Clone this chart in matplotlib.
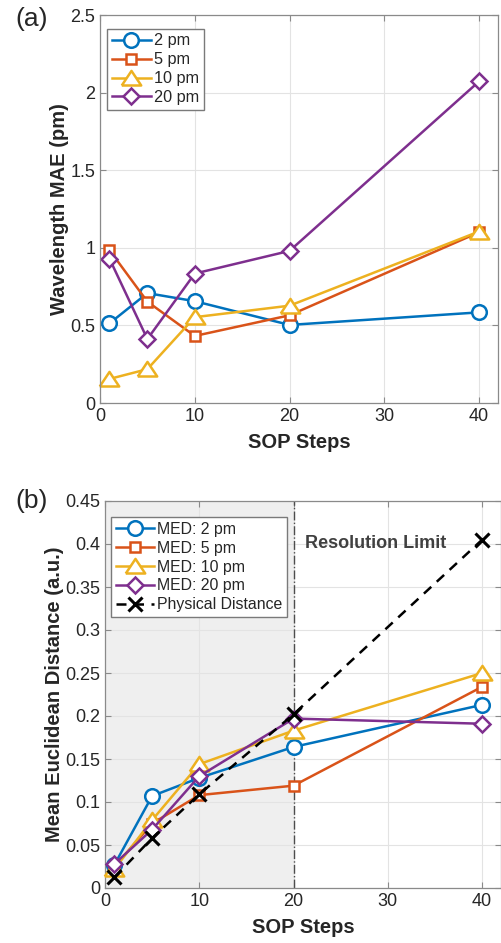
import matplotlib
matplotlib.use("Agg")
import matplotlib.pyplot as plt

plt.rcParams['font.family'] = ['Liberation Sans', 'DejaVu Sans']

sop_steps = [1, 5, 10, 20, 40]

# Panel (a): Wavelength MAE (pm)
mae_2pm = [0.513, 0.708, 0.656, 0.503, 0.584]
mae_5pm = [0.985, 0.653, 0.432, 0.565, 1.100]
mae_10pm = [0.155, 0.218, 0.553, 0.627, 1.105]
mae_20pm = [0.930, 0.412, 0.834, 0.980, 2.072]

# Panel (b): Mean Euclidean Distance (a.u.)
med_2pm = [0.027, 0.107, 0.128, 0.164, 0.213]
med_5pm = [0.025, 0.075, 0.108, 0.119, 0.234]
med_10pm = [0.022, 0.079, 0.144, 0.183, 0.250]
med_20pm = [0.028, 0.068, 0.130, 0.197, 0.191]
physical = [0.0125, 0.058, 0.109, 0.202, 0.405]

labels_a = ['2 pm', '5 pm', '10 pm', '20 pm']
labels_b = ['MED: 2 pm', 'MED: 5 pm', 'MED: 10 pm', 'MED: 20 pm', 'Physical Distance']

colors = ['#0072BD', '#D95319', '#EDB120', '#7E2F8E']
tri = [(-1, -0.72), (1, -0.72), (0, 0.78), (-1, -0.72)]
markers = ['o', 's', tri, 'D']
msizes = [10.5, 7.8, 14, 8.6]

TXT = '#262626'
SPINE = '#8a8a8a'
GRID = '#e3e3e3'

fig = plt.figure(figsize=(5.02, 9.43), dpi=100)

def style_axes(ax, yticks, yticklabels):
    ax.set_xlim(0, 42)
    ax.set_xticks([0, 10, 20, 30, 40])
    ax.set_yticks(yticks)
    ax.set_yticklabels(yticklabels)
    ax.tick_params(direction='in', top=True, right=True, labelsize=13,
                   colors=SPINE, labelcolor=TXT, length=4, width=0.8)
    for s in ax.spines.values():
        s.set_color(SPINE)
        s.set_linewidth(0.9)
    ax.grid(True, color=GRID, linewidth=0.8)
    ax.set_axisbelow(True)
    ax.set_xlabel('SOP Steps', fontsize=14.5, fontweight='bold', color=TXT, labelpad=6)

# ---------- (a) ----------
axa = fig.add_axes([100/502, 1 - 403/943, 398/502, 388/943])
series_a = [mae_2pm, mae_5pm, mae_10pm, mae_20pm]
for vals, c, m, ms, lab in zip(series_a, colors, markers, msizes, labels_a):
    axa.plot(sop_steps, vals, color=c, marker=m, markersize=ms, linewidth=1.8,
             markeredgewidth=1.8, markerfacecolor='white', label=lab, clip_on=False)
axa.set_ylim(0, 2.5)
style_axes(axa, [0, 0.5, 1, 1.5, 2, 2.5], ['0', '0.5', '1', '1.5', '2', '2.5'])
axa.set_ylabel('Wavelength MAE (pm)', fontsize=14.5, fontweight='bold', color=TXT, labelpad=1)
lega = axa.legend(loc='upper left', bbox_to_anchor=(0.017, 0.965), fontsize=11.7,
                  handlelength=2.4, handletextpad=0.2, labelspacing=0.24,
                  borderpad=0.3, borderaxespad=0, fancybox=False, framealpha=1,
                  edgecolor='#7a7a7a')
for t in lega.get_texts():
    t.set_color(TXT)
fig.text(15/502, 1 - 19/943, '(a)', fontsize=19, color=TXT, ha='left', va='center')

# ---------- (b) ----------
axb = fig.add_axes([105/502, 1 - 888/943, 396/502, 387/943])
axb.axvspan(0, 20, color='#efefef', zorder=0, linewidth=0)
axb.axvline(20, color='#4d4d4d', linestyle='-.', linewidth=1.0, zorder=1)
series_b = [med_2pm, med_5pm, med_10pm, med_20pm]
handles = []
for vals, c, m, ms, lab in zip(series_b, colors, markers, msizes, labels_b[:4]):
    h, = axb.plot(sop_steps, vals, color=c, marker=m, markersize=ms, linewidth=1.8,
                  markeredgewidth=1.8, markerfacecolor='white', label=lab, zorder=3,
                  clip_on=False)
    handles.append(h)
hp, = axb.plot(sop_steps, physical, color='black', linestyle=(0, (4, 3)), marker='x',
               markersize=10, markeredgewidth=2.2, linewidth=1.8,
               label=labels_b[4], zorder=4, clip_on=False)
handles.append(hp)
axb.set_ylim(0, 0.45)
style_axes(axb, [0, 0.05, 0.1, 0.15, 0.2, 0.25, 0.3, 0.35, 0.4, 0.45],
           ['0', '0.05', '0.1', '0.15', '0.2', '0.25', '0.3', '0.35', '0.4', '0.45'])
axb.set_ylabel('Mean Euclidean Distance (a.u.)', fontsize=14.5, fontweight='bold',
               color=TXT, labelpad=1)
axb.text(21.2, 0.400, 'Resolution Limit', fontsize=13, fontweight='bold', color='#404040',
         ha='left', va='center')
legb = axb.legend(handles=handles, loc='upper left', bbox_to_anchor=(0.015, 0.958),
                  fontsize=11.4, handlelength=2.4, handletextpad=0.2, labelspacing=0.24,
                  borderpad=0.3, borderaxespad=0, fancybox=False, framealpha=1,
                  edgecolor='#7a7a7a')
for t in legb.get_texts():
    t.set_color(TXT)
fig.text(15/502, 1 - 501/943, '(b)', fontsize=19, color=TXT, ha='left', va='center')

fig.savefig('out.png', dpi=100)
